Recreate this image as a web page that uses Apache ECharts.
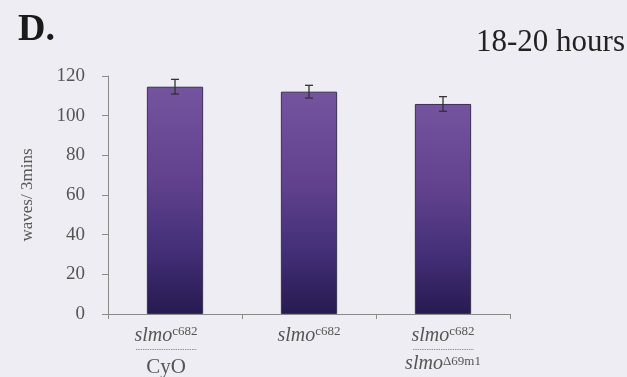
<!DOCTYPE html>
<html>
<head>
<meta charset="utf-8">
<script src="https://cdn.jsdelivr.net/npm/echarts@6/dist/echarts.min.js"></script>
<style>
  html, body { margin: 0; padding: 0; background: #ededf3; }
  #chart { width: 627px; height: 377px; }
</style>
</head>
<body>
<div id="chart"></div>
<script>
// Genotypes on the x axis
const genotypes = ['c682/CyO', 'c682', 'c682/D69m1'];
// Mean waves per 3 minutes and standard error
const meanWaves = [114.6, 112.1, 105.9];
const errWaves = [3.7, 3.2, 3.7];
// Y axis ticks
const yTicks = [0, 20, 40, 60, 80, 100, 120];

const dots = '.'.repeat(35);
const labelText = {
  'c682/CyO': '{it|slmo}{sup|c682}\n{dot|' + dots + '}\n{n|CyO}',
  'c682': '{it|slmo}{sup|c682}',
  'c682/D69m1': '{it|slmo}{sup|c682}\n{dot|' + dots + '}\n{it2|slmo}{sup2|\u039469m1}'
};
// The heterozygote over the balancer sits a little left of its bar
const labelShift = { 'c682/CyO': 18 };

const serif = '"Liberation Serif", "DejaVu Serif", serif';
const chart = echarts.init(document.getElementById('chart'));

const barFill = new echarts.graphic.LinearGradient(0, 0, 0, 1, [
  { offset: 0, color: '#74539f' },
  { offset: 0.4, color: '#62428f' },
  { offset: 0.7, color: '#45307a' },
  { offset: 1, color: '#271a50' }
]);

chart.setOption({
  backgroundColor: '#ededf3',
  animation: false,
  title: [
    { text: 'D.', left: 13, top: 6,
      textStyle: { fontFamily: serif, fontSize: 38, fontWeight: 'bold', color: '#1a1a1a' } },
    { text: '18-20 hours', right: -3, top: 22,
      textStyle: { fontFamily: serif, fontSize: 31, fontWeight: 'normal', color: '#222' } }
  ],
  grid: { left: 108, right: 117, top: 76, bottom: 63, outerBoundsMode: 'none', containLabel: false },
  xAxis: {
    type: 'category',
    data: genotypes.map(g => ({
      value: g,
      textStyle: { padding: [0, labelShift[g] || 0, 0, 0] }
    })),
    axisLine: { lineStyle: { color: '#8a8a8a', width: 1 } },
    axisTick: { show: true, interval: 0, length: 5, lineStyle: { color: '#8a8a8a' } },
    axisLabel: {
      interval: 0,
      margin: 11,
      formatter: v => labelText[v],
      rich: {
        it: { fontFamily: serif, fontStyle: 'italic', fontSize: 20, color: '#555', lineHeight: 22 },
        sup: { fontFamily: serif, fontSize: 13, color: '#555', verticalAlign: 'top', lineHeight: 17 },
        dot: { fontFamily: serif, fontSize: 7, color: '#444', lineHeight: 2 },
        n: { fontFamily: serif, fontSize: 21, color: '#555', lineHeight: 36 },
        it2: { fontFamily: serif, fontStyle: 'italic', fontSize: 20, color: '#555', lineHeight: 30 },
        sup2: { fontFamily: serif, fontSize: 13, color: '#555', padding: [0, 0, 4, 0] }
      }
    }
  },
  yAxis: {
    type: 'value',
    min: yTicks[0],
    max: yTicks[yTicks.length - 1],
    interval: yTicks[1] - yTicks[0],
    name: 'waves/ 3mins',
    nameLocation: 'middle',
    nameRotate: 90,
    nameGap: 72,
    nameTextStyle: { fontFamily: serif, fontSize: 17, color: '#555' },
    splitLine: { show: false },
    axisLine: { show: true, lineStyle: { color: '#8a8a8a', width: 1 } },
    axisTick: { show: true, length: 6, lineStyle: { color: '#8a8a8a' } },
    axisLabel: { margin: 23, fontFamily: serif, fontSize: 19, color: '#555' }
  },
  series: [
    {
      type: 'bar',
      data: meanWaves,
      barWidth: '42%',
      itemStyle: { color: barFill, borderColor: '#3a3050', borderWidth: 1 }
    },
    {
      type: 'custom',
      data: meanWaves.map((m, i) => [i, m - errWaves[i], m + errWaves[i]]),
      renderItem: (params, api) => {
        const lo = api.coord([api.value(0), api.value(1)]);
        const hi = api.coord([api.value(0), api.value(2)]);
        const cap = 4;
        const style = { stroke: '#333', lineWidth: 1.3, fill: null };
        return {
          type: 'group',
          children: [
            { type: 'line', shape: { x1: lo[0], y1: lo[1], x2: hi[0], y2: hi[1] }, style },
            { type: 'line', shape: { x1: hi[0] - cap, y1: hi[1], x2: hi[0] + cap, y2: hi[1] }, style },
            { type: 'line', shape: { x1: lo[0] - cap, y1: lo[1], x2: lo[0] + cap, y2: lo[1] }, style }
          ]
        };
      },
      z: 5
    }
  ]
});
</script>
</body>
</html>
